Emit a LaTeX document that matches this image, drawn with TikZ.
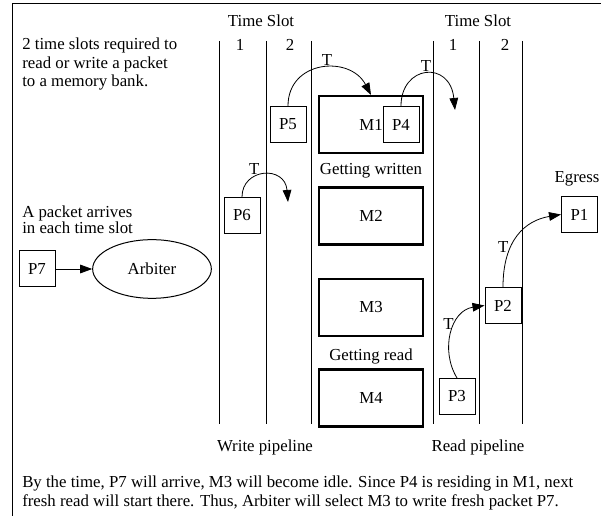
\documentclass[tikz,border=0pt]{standalone}
\usepackage{fontspec}
\setmainfont{Liberation Serif}
\usetikzlibrary{arrows.meta,shapes.geometric}

\tikzset{
  pkt/.style={draw, line width=0.75pt, minimum size=27pt, inner sep=0pt},
  bank/.style={draw, line width=1.8pt, minimum width=78pt, minimum height=42.5pt, inner sep=0pt},
  flow/.style={-{Triangle[length=9pt,width=6.5pt]}, line width=0.6pt},
  tlabel/.style={inner sep=1.5pt},
  note/.style={align=left, anchor=north west, inner sep=0pt},
}

\begin{document}
\begin{tikzpicture}[x=0.75pt,y=-0.75pt,font=\fontsize{12.6}{13.9}\selectfont]
  \useasboundingbox (0,0) rectangle (601,516);
  \draw[line width=0.75pt] (601,4) -- (12,4) -- (12,516);

  % pipeline slots
  \foreach \x in {219,266,311,433,479,522}
    \draw[line width=0.6pt] (\x,41) -- (\x,424);
  \node (slotw) at (261,21) {Time Slot};
  \node (w1) at (240,45) {1};
  \node (w2) at (290,45) {2};
  \node (slotr) at (478,21) {Time Slot};
  \node (r1) at (453,45) {1};
  \node (r2) at (505,45) {2};
  \node (wpipe) at (265,447) {Write pipeline};
  \node (rpipe) at (478,447) {Read pipeline};

  % notes
  \node[note] (info) at (22,38) {2 time slots required to\\read or write a packet\\to a memory bank.};
  \node[note, font=\fontsize{12.6}{12}\selectfont] (arrive) at (22,206) {A packet arrives\\in each time slot};
  \node[note, font=\fontsize{12.6}{14.25}\selectfont] (remark) at (22,476) {By the time, P7 will arrive, M3 will become idle. Since P4 is residing in M1, next\\fresh read will start there. Thus, Arbiter will select M3 to write fresh packet P7.};

  % ingress
  \node[pkt] (p7) at (37,269) {P7};
  \node[ellipse, draw, line width=0.75pt, minimum width=89pt, minimum height=44pt] (arb) at (152,269) {Arbiter};
  \draw[flow] (p7) -- (arb);

  % memory banks
  \node[bank] (m1) at (371,124.5) {M1};
  \node[bank] (m2) at (371,216) {M2};
  \node[bank] (m3) at (371,307.5) {M3};
  \node[bank] (m4) at (371,398) {M4};
  \node (wlabel) at (371,171) {Getting written};
  \node (rlabel) at (371,356) {Getting read};

  % packets
  \node[pkt, fill=white] (p4) at (401,124.5) {P4};
  \node[pkt] (p5) at (288,124.5) {P5};
  \node[pkt] (p6) at (242,215.5) {P6};
  \node[pkt] (p3) at (457,396.5) {P3};
  \node[pkt] (p2) at (503,305.5) {P2};
  \node[pkt] (p1) at (579.5,214.5) {P1};
  \node (egress) at (577,179) {Egress};

  \coordinate (p4end) at (455,110);
  \coordinate (p6end) at (288,202);

  \draw[flow] (p5.north) .. controls +(0,-46) and +(-21,-40) .. (m1.north) node[tlabel, pos=0.55, above] {T};
  \draw[flow] (p4.north) .. controls +(0,-41) and +(-5,-50) .. (p4end) node[tlabel, pos=0.5, above] {T};
  \draw[flow] (p6.north) .. controls +(0,-29) and +(-3,-37) .. (p6end) node[tlabel, pos=0.35, above] {T};
  \draw[flow] (p3.north) .. controls +(-17,-28) and +(-34,5) .. (p2.west) node[tlabel, pos=0.62, left] {T};
  \draw[flow] (p2.north) .. controls +(0,-47) and +(-36,6) .. (p1.west) node[tlabel, pos=0.35, left] {T};
\end{tikzpicture}
\end{document}
